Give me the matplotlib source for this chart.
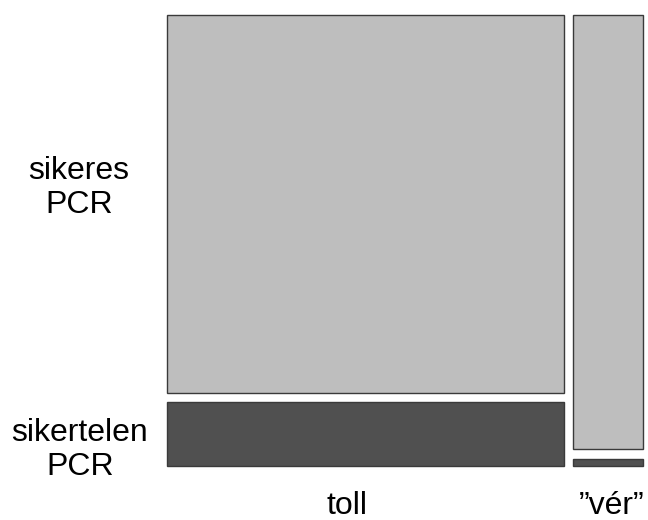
import matplotlib
matplotlib.use("Agg")
import matplotlib.pyplot as plt
from matplotlib.patches import Rectangle

plt.rcParams['font.family'] = ['Liberation Sans', 'DejaVu Sans']

# mosaic data (estimated counts)
sample_types = ["toll", "\u201dvér\u201d"]
outcomes = ["sikeres\nPCR", "sikertelen\nPCR"]
counts = {
    "toll": [291, 49],
    "\u201dvér\u201d": [59, 1],
}
colors = ["#bebebe", "#505050"]

W, H = 648, 520
fig = plt.figure(figsize=(W / 100, H / 100), dpi=100)
ax = fig.add_axes([167 / W, (H - 466) / H, (643 - 167) / W, (466 - 15) / H])
ax.set_xlim(0, 1)
ax.set_ylim(0, 1)
ax.axis("off")

gap_x = 9 / 476
gap_y = 9.5 / 451
totals = [sum(counts[s]) for s in sample_types]
grand = sum(totals)

x = 0
for s, tot in zip(sample_types, totals):
    w = (1 - gap_x * (len(sample_types) - 1)) * tot / grand
    top = 1
    for k, v in enumerate(counts[s]):
        h = (1 - gap_y * (len(outcomes) - 1)) * v / tot
        ax.add_patch(Rectangle((x, top - h), w, h, facecolor=colors[k],
                               edgecolor="#3a3a3a", linewidth=1, clip_on=False))
        top = top - h - gap_y
    x += w + gap_x

fs = 23
fig.text(79 / W, 1 - 188 / H, outcomes[0], ha="center", va="center",
         fontsize=fs, linespacing=1.15)
fig.text(80 / W, 1 - 450 / H, outcomes[1], ha="center", va="center",
         fontsize=fs, linespacing=1.15)
fig.text(347 / W, 1 - 514 / H, sample_types[0], ha="center", va="baseline",
         fontsize=fs)
fig.text(612 / W, 1 - 514 / H, sample_types[1], ha="center", va="baseline",
         fontsize=fs)

fig.savefig("out.png", dpi=100)
